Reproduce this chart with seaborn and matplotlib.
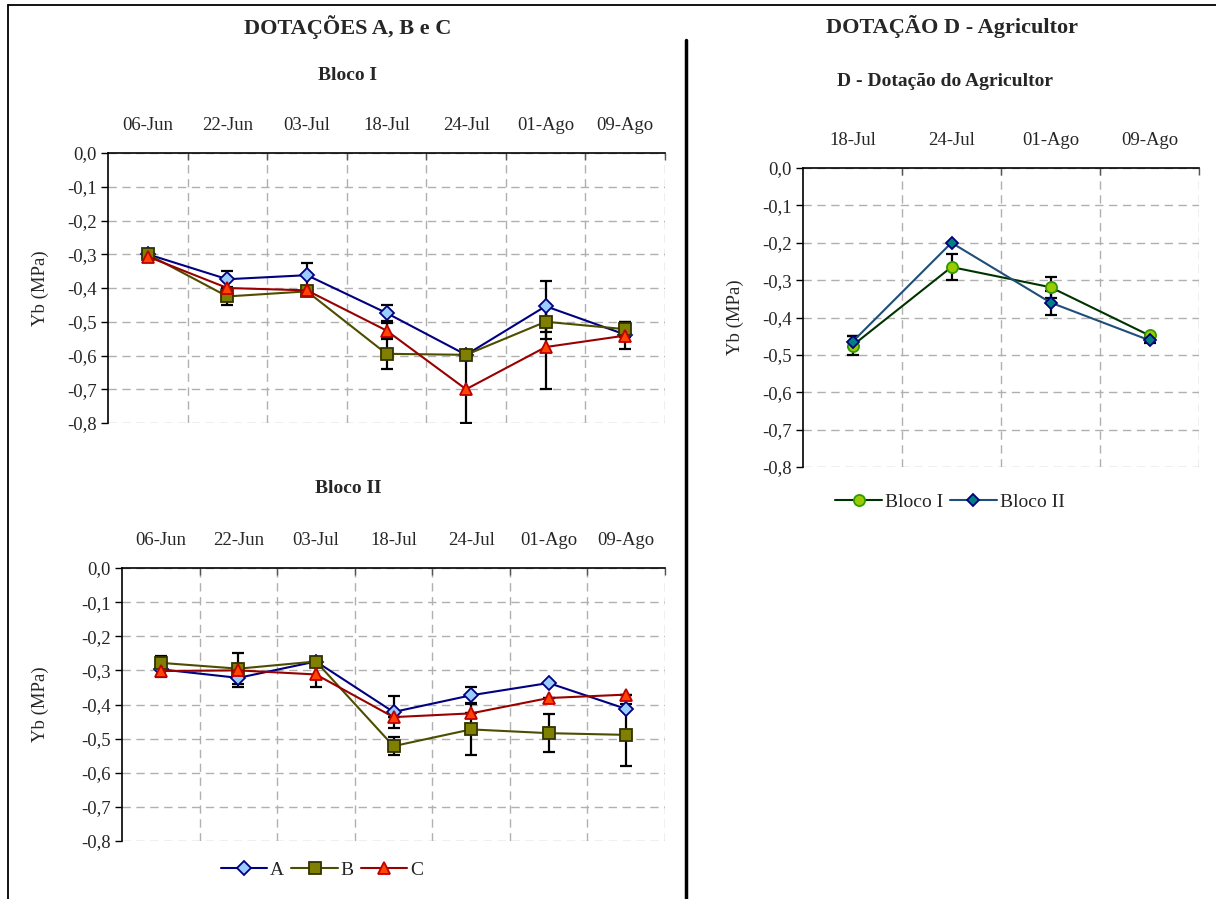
import numpy as np
import pandas as pd
import matplotlib
matplotlib.use("Agg")
import matplotlib.pyplot as plt
from matplotlib.lines import Line2D
import seaborn as sns

# ---------------- data ----------------
dates_abc = ["06-Jun", "22-Jun", "03-Jul", "18-Jul", "24-Jul", "01-Ago", "09-Ago"]
dates_d = ["18-Jul", "24-Jul", "01-Ago", "09-Ago"]
yticks = [0.0, -0.1, -0.2, -0.3, -0.4, -0.5, -0.6, -0.7, -0.8]

# Bloco I
b1_A = [-0.300, -0.374, -0.362, -0.474, -0.598, -0.454, -0.538]
b1_A_err = [0.0, 0.023, 0.037, 0.025, 0.0, 0.075, 0.0]
b1_B = [-0.300, -0.425, -0.410, -0.595, -0.598, -0.500, -0.522]
b1_B_err = [0.0, 0.025, 0.010, 0.045, 0.0, 0.050, 0.022]
b1_C = [-0.307, -0.400, -0.407, -0.526, -0.700, -0.575, -0.541]
b1_C_err = [0.0, 0.0, 0.010, 0.023, 0.100, 0.125, 0.039]

# Bloco II
b2_A = [-0.297, -0.322, -0.274, -0.422, -0.373, -0.337, -0.413]
b2_A_err = [0.0, 0.027, 0.0, 0.048, 0.024, 0.0, 0.0]
b2_B = [-0.278, -0.295, -0.274, -0.522, -0.473, -0.484, -0.489]
b2_B_err = [0.020, 0.046, 0.0, 0.027, 0.075, 0.055, 0.090]
b2_C = [-0.302, -0.300, -0.312, -0.437, -0.426, -0.381, -0.371]
b2_C_err = [0.018, 0.0, 0.037, 0.0, 0.0, 0.0, 0.0]

# Dotação D
d_b1 = [-0.475, -0.265, -0.319, -0.448]
d_b1_err = [0.025, 0.035, 0.028, 0.005]
d_b2 = [-0.465, -0.200, -0.360, -0.461]
d_b2_err = [0.015, 0.0, 0.032, 0.008]

# ---------------- style ----------------
sns.set_theme(style="white")
plt.rcParams["font.family"] = ["Liberation Serif", "DejaVu Serif"]
plt.rcParams["axes.unicode_minus"] = False

W, H = 1216, 899
fig = plt.figure(figsize=(W / 100, H / 100), dpi=100)
fig.patch.set_facecolor("white")


def rect(left, top, right, bottom):
    return [left / W, 1 - bottom / H, (right - left) / W, (bottom - top) / H]


styles_abc = {
    "A": dict(marker="D", color="#000080", markerfacecolor="#99CCFF",
              markeredgecolor="#000080", markersize=7),
    "B": dict(marker="s", color="#4D4D00", markerfacecolor="#808000",
              markeredgecolor="#333300", markersize=8),
    "C": dict(marker="^", color="#990000", markerfacecolor="#FF4500",
              markeredgecolor="#C00000", markersize=8.5),
}
styles_d = {
    "Bloco I": dict(marker="o", color="#003300", markerfacecolor="#99CC00",
                    markeredgecolor="#339900", markersize=8),
    "Bloco II": dict(marker="D", color="#1F4E79", markerfacecolor="#008080",
                     markeredgecolor="#000080", markersize=6.5),
}

FS = 13.5


def setup_axes(ax, cats):
    n = len(cats)
    ax.set_xlim(-0.5, n - 0.5)
    ax.set_ylim(-0.8, 0.0)
    ax.set_yticks(yticks)
    ax.set_yticklabels([f"{v:.1f}".replace(".", ",") for v in yticks], fontsize=FS)
    ax.xaxis.tick_top()
    ax.set_xticks(range(n))
    ax.set_xticklabels(cats, fontsize=FS)
    ax.set_xticks(np.arange(n) + 0.5, minor=True)
    ax.tick_params(axis="x", which="major", length=0, pad=14)
    ax.tick_params(axis="x", which="minor", direction="in", length=5,
                   width=1, color="#555555", top=True, bottom=False)
    ax.tick_params(axis="y", which="major", direction="out", length=5,
                   width=1, color="black", left=True, pad=3)
    ax.grid(False)
    ax.grid(True, axis="y", which="major", color="#B0B0B0", linestyle=(0, (6, 4)),
            linewidth=1)
    ax.grid(True, axis="x", which="minor", color="#B0B0B0", linestyle=(0, (6, 4)),
            linewidth=1)
    for s in ["right", "bottom"]:
        ax.spines[s].set_visible(False)
    for s in ["left", "top"]:
        ax.spines[s].set_color("black")
        ax.spines[s].set_linewidth(1.2)
    ax.set_ylabel("Yb (MPa)", fontsize=FS)
    ax.set_xlabel("")
    ax.set_facecolor("white")


def draw(ax, cats, series, styles):
    x = np.arange(len(cats))
    handles = []
    for name, (vals, errs) in series.items():
        ax.errorbar(x, vals, yerr=errs, fmt="none", ecolor="black",
                    elinewidth=1.6, capsize=4.5, capthick=1.6, zorder=2)
    for name, (vals, errs) in series.items():
        df = pd.DataFrame({"x": x, "y": vals})
        st = styles[name]
        sns.lineplot(data=df, x="x", y="y", ax=ax, label=name, linewidth=1.5,
                     markeredgewidth=1.3, zorder=3, **st)
        handles.append(Line2D([0], [0], linewidth=1.5, markeredgewidth=1.3, **st))
    if ax.get_legend() is not None:
        ax.get_legend().remove()
    return handles, list(series.keys())


# Bloco I
ax1 = fig.add_axes(rect(108, 153, 665, 423))
h1, l1 = draw(ax1, dates_abc, {"A": (b1_A, b1_A_err), "B": (b1_B, b1_B_err),
                               "C": (b1_C, b1_C_err)}, styles_abc)
setup_axes(ax1, dates_abc)
ax1.yaxis.set_label_coords(-(108 - 49) / (665 - 108), 0.5)

# Bloco II
ax2 = fig.add_axes(rect(122, 568, 665, 841))
h2, l2 = draw(ax2, dates_abc, {"A": (b2_A, b2_A_err), "B": (b2_B, b2_B_err),
                               "C": (b2_C, b2_C_err)}, styles_abc)
setup_axes(ax2, dates_abc)
ax2.yaxis.set_label_coords(-(122 - 49) / (665 - 122), 0.5)

# Dotação D
ax3 = fig.add_axes(rect(803, 168, 1199, 467))
h3, l3 = draw(ax3, dates_d, {"Bloco I": (d_b1, d_b1_err), "Bloco II": (d_b2, d_b2_err)},
              styles_d)
setup_axes(ax3, dates_d)
ax3.yaxis.set_label_coords(-(803 - 744) / (1199 - 803), 0.5)

# legends
fig.legend(h2, l2, loc="center", bbox_to_anchor=(322 / W, 1 - 870 / H), ncol=3,
           frameon=False, fontsize=FS + 0.5, handlelength=2.4, handletextpad=0.15,
           columnspacing=0.35)
fig.legend(h3, l3, loc="center", bbox_to_anchor=(950 / W, 1 - 502 / H), ncol=2,
           frameon=False, fontsize=FS + 0.5, handlelength=2.4, handletextpad=0.15,
           columnspacing=0.35)

# titles
fig.text(348 / W, 1 - 27 / H, "DOTAÇÕES A, B e C", ha="center", va="center",
         fontsize=16, fontweight="bold")
fig.text(952 / W, 1 - 27 / H, "DOTAÇÃO D - Agricultor", ha="center", va="center",
         fontsize=16, fontweight="bold")
fig.text(348 / W, 1 - 75 / H, "Bloco I", ha="center", va="center",
         fontsize=14, fontweight="bold")
fig.text(348 / W, 1 - 488 / H, "Bloco II", ha="center", va="center",
         fontsize=14, fontweight="bold")
fig.text(945 / W, 1 - 82 / H, "D - Dotação do Agricultor", ha="center", va="center",
         fontsize=14, fontweight="bold")

# frame lines
fig.add_artist(Line2D([8 / W, 1.0], [1 - 5 / H, 1 - 5 / H], color="black", linewidth=1.3,
                      transform=fig.transFigure))
fig.add_artist(Line2D([8 / W, 8 / W], [0, 1 - 5 / H], color="black", linewidth=1.3,
                      transform=fig.transFigure))
fig.add_artist(Line2D([686 / W, 686 / W], [0, 1 - 40 / H], color="black", linewidth=2.5,
                      transform=fig.transFigure))

fig.savefig("out.png", dpi=100, facecolor="white")
